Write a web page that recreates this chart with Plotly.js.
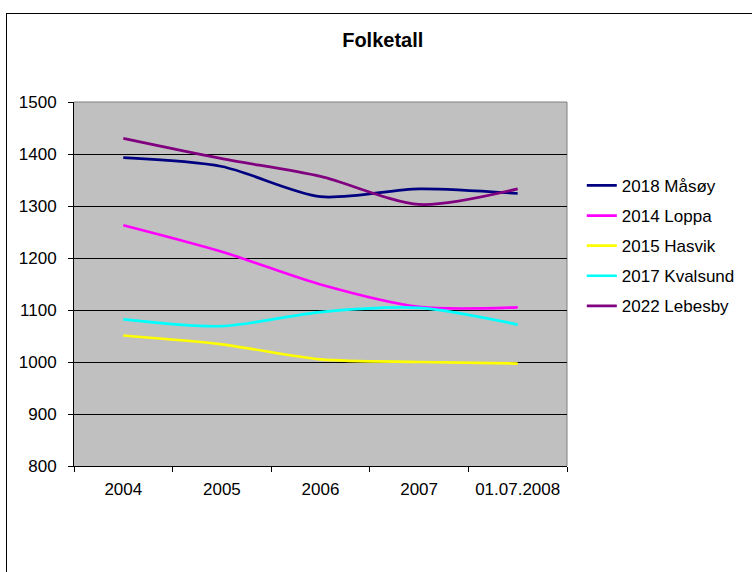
<!DOCTYPE html>
<html>
<head>
<meta charset="utf-8">
<script src="https://cdn.plot.ly/plotly-3.0.1.min.js"></script>
<style>
  html, body { margin: 0; padding: 0; background: #ffffff; }
  #frame { position: absolute; left: 6px; top: 13px; width: 800px; height: 600px;
           border-left: 1px solid #000; border-top: 1px solid #000; }
  #chart { position: absolute; left: 0; top: 0; width: 752px; height: 572px; }
</style>
</head>
<body>
<div id="frame"></div>
<div id="chart"></div>
<script>
const categories = ["2004", "2005", "2006", "2007", "01.07.2008"];
const seriesNames = ["2018 Måsøy", "2014 Loppa", "2015 Hasvik", "2017 Kvalsund", "2022 Lebesby"];
const masoy    = [1393, 1376, 1318, 1333, 1324];
const loppa    = [1263, 1212, 1149, 1106, 1105];
const hasvik   = [1051, 1034, 1005, 1000, 997];
const kvalsund = [1082, 1069, 1096, 1104, 1072];
const lebesby  = [1430, 1391, 1357, 1303, 1333];
const colors = ["#000080", "#FF00FF", "#FFFF00", "#00FFFF", "#800080"];
const values = [masoy, loppa, hasvik, kvalsund, lebesby];

const traces = values.map((v, i) => ({
  type: "scatter",
  mode: "lines",
  x: categories,
  y: v,
  name: seriesNames[i],
  legendgroup: "g" + i,
  line: { color: colors[i], width: 2.7, shape: "spline", smoothing: 0.8 },
  hoverinfo: "x+y+name"
}));

const font = { family: "Liberation Sans, Arial, sans-serif", size: 17, color: "#000" };

const layout = {
  width: 752, height: 572,
  paper_bgcolor: "rgba(0,0,0,0)",
  plot_bgcolor: "#C0C0C0",
  font: font,
  margin: { l: 74, r: 185, t: 102, b: 106, pad: 0, autoexpand: false },
  title: { text: "<b>Folketall</b>", font: { family: font.family, size: 20, color: "#000" },
           x: 0.509, xref: "container", xanchor: "center",
           y: 0.930, yref: "container", yanchor: "middle" },
  xaxis: {
    type: "category",
    tickson: "boundaries",
    ticks: "outside", ticklen: 5, tickcolor: "#000", tickwidth: 1,
    ticklabelstandoff: 8,
    showline: true, linecolor: "#000", linewidth: 1,
    showgrid: false, zeroline: false,
    range: [-0.5, 4.5],
    tickfont: font,
    automargin: false
  },
  yaxis: {
    range: [800, 1500],
    dtick: 100, tick0: 800,
    ticks: "outside", ticklen: 5, tickcolor: "#000", tickwidth: 1,
    ticklabelstandoff: 8,
    showline: true, linecolor: "#000", linewidth: 1,
    showgrid: true, gridcolor: "#000", gridwidth: 1,
    zeroline: false,
    tickfont: font,
    automargin: false
  },
  shapes: [
    { type: "line", xref: "paper", yref: "paper", x0: 0, x1: 1, y0: 1, y1: 1,
      line: { color: "#808080", width: 1 }, layer: "between" },
    { type: "line", xref: "paper", yref: "paper", x0: 1, x1: 1, y0: 0, y1: 1,
      line: { color: "#808080", width: 1 }, layer: "between" }
  ],
  showlegend: true,
  legend: {
    x: 1.03, xanchor: "left", y: 0.819, yanchor: "top",
    font: font, bgcolor: "rgba(0,0,0,0)",
    tracegroupgap: 5
  }
};

Plotly.newPlot("chart", traces, layout, { displayModeBar: false, staticPlot: true });
</script>
</body>
</html>
